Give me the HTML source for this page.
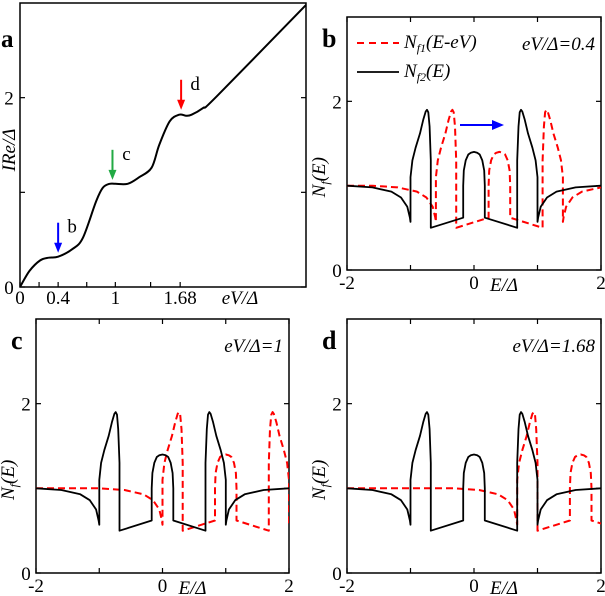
<!DOCTYPE html>
<html><head><meta charset="utf-8"><style>
body{margin:0;background:#fff;}
svg{display:block;font-family:"Liberation Serif",serif;}
.t{font-size:19px;fill:#000}
.it{font-style:italic}
</style></head><body>
<svg id="fig" width="605" height="596" viewBox="0 0 605 596" xmlns="http://www.w3.org/2000/svg">
<defs>
<clipPath id="cpa"><rect x="20" y="3" width="286" height="284"/></clipPath>
<clipPath id="cpb"><rect x="347" y="17" width="254" height="253"/></clipPath>
<clipPath id="cpc"><rect x="36" y="319" width="253" height="254"/></clipPath>
<clipPath id="cpd"><rect x="347" y="319" width="254" height="254"/></clipPath>
</defs>
<g id="g"></g>
</svg>
<script>
// Panel a: I-V curve
const ivV = [0,0.1,0.21,0.3,0.4,0.55,0.66,0.8,0.87,0.94,1.0,1.13,1.25,1.38,1.46,1.57,1.67,1.74,1.8,1.92,2.06,3.0];
const ivI = [0,0.17,0.28,0.31,0.32,0.40,0.52,0.91,1.05,1.09,1.09,1.09,1.16,1.26,1.5,1.75,1.82,1.81,1.82,1.89,2.01,2.98];
// DOS N_f2(E): energies and values (black curve)
const dosE = [-2,-1.6,-1.3,-1.15,-1.05,-1.01,-1.0,-1.0,-0.97,-0.92,-0.85,-0.8,-0.76,-0.74,-0.72,-0.7,-0.68,-0.68,-0.17,-0.17,-0.16,-0.13,-0.09,-0.05,0,0.05,0.09,0.13,0.16,0.17,0.17,0.68,0.68,0.7,0.72,0.74,0.76,0.8,0.85,0.92,0.97,1.0,1.0,1.01,1.05,1.15,1.3,1.6,2];
const dosN = [1.0,0.98,0.93,0.86,0.75,0.62,0.57,1.1,1.3,1.45,1.62,1.78,1.88,1.9,1.87,1.7,1.3,0.5,0.62,1.0,1.18,1.3,1.37,1.39,1.4,1.39,1.37,1.3,1.18,1.0,0.62,0.5,1.3,1.7,1.87,1.9,1.88,1.78,1.62,1.45,1.3,1.1,0.57,0.62,0.75,0.86,0.93,0.98,1.0];
// bias values for panels b,c,d
const biasValues = [0.4,1,1.68];
const panelLetters = ['b','c','d'];
const biasLabels = ['eV/Δ=0.4','eV/Δ=1','eV/Δ=1.68'];

const NS='http://www.w3.org/2000/svg';
const G=document.getElementById('g');
function el(tag,attrs,parent){const e=document.createElementNS(NS,tag);for(const k in attrs)e.setAttribute(k,attrs[k]);(parent||G).appendChild(e);return e;}
function txt(s,x,y,cls,anchor,parent){const e=el('text',{x:x,y:y,class:cls||'t','text-anchor':anchor||'middle'},parent);e.textContent=s;return e;}
function smooth(pts){let d='M'+pts[0][0].toFixed(1)+','+pts[0][1].toFixed(1);
 for(let i=0;i<pts.length-1;i++){const p0=pts[Math.max(0,i-1)],p1=pts[i],p2=pts[i+1],p3=pts[Math.min(pts.length-1,i+2)];
  const c1=[p1[0]+(p2[0]-p0[0])/6,p1[1]+(p2[1]-p0[1])/6],c2=[p2[0]-(p3[0]-p1[0])/6,p2[1]-(p3[1]-p1[1])/6];
  d+='C'+c1[0].toFixed(1)+','+c1[1].toFixed(1)+' '+c2[0].toFixed(1)+','+c2[1].toFixed(1)+' '+p2[0].toFixed(1)+','+p2[1].toFixed(1);}
 return d;}

// ---------- Panel a ----------
const A={x0:20,x1:306,y0:287,y1:3,xmin:0,xmax:3,ymin:0,ymax:3};
const ax=v=>A.x0+(v-A.xmin)/(A.xmax-A.xmin)*(A.x1-A.x0);
const ay=v=>A.y0-(v-A.ymin)/(A.ymax-A.ymin)*(A.y0-A.y1);
const ga=el('g',{});


const fa=el('rect',{x:A.x0,y:A.y1,width:A.x1-A.x0,height:A.y0-A.y1,fill:'none',stroke:'#000','stroke-width':1.5},ga);


[0,0.2,0.4,0.7,1,1.37,1.68].forEach(v=>{el('line',{x1:ax(v),x2:ax(v),y1:A.y0,y2:A.y0-5,stroke:'#000','stroke-width':1.2},ga);});
[0,1,2].forEach(v=>{el('line',{x1:A.x0,x2:A.x0+5,y1:ay(v),y2:ay(v),stroke:'#000','stroke-width':1.2},ga);el('line',{x1:A.x1,x2:A.x1-5,y1:ay(v),y2:ay(v),stroke:'#000','stroke-width':1.2},ga);});
const ivPts=ivV.map((v,i)=>[ax(v),ay(ivI[i])]);
const ca=el('path',{d:smooth(ivPts),fill:'none',stroke:'#000','stroke-width':2,'stroke-linejoin':'round','clip-path':'url(#cpa)'},ga);


[['0',0],['0.4',0.4],['1',1],['1.68',1.68]].forEach(p=>{const t=txt(p[0],ax(p[1]),304,'t','middle',ga);});
[['0',0],['2',2]].forEach(p=>{const t=txt(p[0],9,ay(p[1])+7,'t','middle',ga);});
let t=txt('eV/Δ',240,304,'t it','middle',ga);
t=txt('IRe/Δ',0,0,'t it','middle',ga);t.setAttribute('transform','translate(15,150) rotate(-90)');
t=el('text',{x:1,y:47,'font-size':'25','font-weight':'bold'},ga);t.textContent='a';
const arrows=[[0.4,'#0000ff','b',0.32],[0.97,'#22aa44','c',1.09],[1.69,'#ff0000','d',1.83]];
arrows.forEach(a=>{const x=ax(a[0]),yb=ay(a[3])-4;
 const g=el('g',{},ga);
 el('line',{x1:x,x2:x,y1:yb-30,y2:yb-8,stroke:a[1],'stroke-width':2},g);
 el('polygon',{points:`${x-4},${yb-10} ${x+4},${yb-10} ${x},${yb}`,fill:a[1]},g);
 const l=txt(a[2],x+14,yb-20,'t','middle',g);l.setAttribute('font-size','22');});

// ---------- Panels b,c,d ----------
const boxes=[{x0:347,x1:601,y0:270,y1:17,cp:'cpb'},{x0:36,x1:289,y0:573,y1:319,cp:'cpc'},{x0:347,x1:601,y0:573,y1:319,cp:'cpd'}];
boxes.forEach((B,k)=>{
 const X=v=>B.x0+(v+2)/4*(B.x1-B.x0);
 const Y=v=>B.y0-v/3*(B.y0-B.y1);
 const g=el('g',{});
 
 
 const f=el('rect',{x:B.x0,y:B.y1,width:B.x1-B.x0,height:B.y0-B.y1,fill:'none',stroke:'#000','stroke-width':1.5},g);
 
 
 [-2,-1,0,1,2].forEach(v=>{el('line',{x1:X(v),x2:X(v),y1:B.y0,y2:B.y0-5,stroke:'#000','stroke-width':1.2},g);el('line',{x1:X(v),x2:X(v),y1:B.y1,y2:B.y1+5,stroke:'#000','stroke-width':1.2},g);});
 [0,1,2].forEach(v=>{el('line',{x1:B.x0,x2:B.x0+5,y1:Y(v),y2:Y(v),stroke:'#000','stroke-width':1.2},g);el('line',{x1:B.x1,x2:B.x1-5,y1:Y(v),y2:Y(v),stroke:'#000','stroke-width':1.2},g);});
 const eV=biasValues[k];
 let dr='';dosE.forEach((e,i)=>{dr+=(i?'L':'M')+X(e+eV).toFixed(1)+','+Y(dosN[i]).toFixed(1);});
 dr='M'+X(-2).toFixed(1)+','+Y(dosN[0]).toFixed(1)+'L'+dr.slice(1);
 const r=el('path',{d:dr,fill:'none',stroke:'#ff0000','stroke-width':2,'stroke-dasharray':'7,4','stroke-linejoin':'round','clip-path':'url(#'+B.cp+')'},g);
 
 
 let db='';dosE.forEach((e,i)=>{db+=(i?'L':'M')+X(e).toFixed(1)+','+Y(dosN[i]).toFixed(1);});
 const b=el('path',{d:db,fill:'none',stroke:'#000','stroke-width':1.8,'stroke-linejoin':'round','clip-path':'url(#'+B.cp+')'},g);
 
 
 [['-2',-2],['0',0],['2',2]].forEach(p=>{const t=txt(p[0],X(p[1]),B.y0+19,'t','middle',g);});
 [['0',0],['2',2]].forEach(p=>{const t=txt(p[0],B.x0-10,Y(p[1])+7,'t','middle',g);});
 let tt=txt('E/Δ',X(0)+30,B.y0+21,'t it','middle',g);
 tt=el('text',{class:'t it','text-anchor':'middle',transform:`translate(${B.x0-22},${Y(1.1)}) rotate(-90)`},g);
 tt.innerHTML='N<tspan font-size="12" dy="4">f</tspan><tspan dy="-4">(E)</tspan>';
 
 tt=el('text',{x:B.x0-25,y:B.y1+30,'font-size':'26','font-weight':'bold'},g);tt.textContent=panelLetters[k];
 
 tt=txt(biasLabels[k],B.x1-6,B.y1+33,'t it','end',g);tt.setAttribute('font-size','17');
 
 if(k===0){
  const lg=el('g',{},g);
  el('line',{x1:357,x2:399,y1:43,y2:43,stroke:'#ff0000','stroke-width':2,'stroke-dasharray':'7,5'},lg);
  let l=el('text',{x:404,y:48,class:'t it'},lg);l.innerHTML='N<tspan font-size="12" dy="4">f1</tspan><tspan dy="-4">(E-eV)</tspan>';
  el('line',{x1:357,x2:399,y1:72,y2:72,stroke:'#000','stroke-width':1.8},lg);
  l=el('text',{x:404,y:77,class:'t it'},lg);l.innerHTML='N<tspan font-size="12" dy="4">f2</tspan><tspan dy="-4">(E)</tspan>';
  const ar=el('g',{},g);
  el('line',{x1:460,x2:494,y1:125,y2:125,stroke:'#0000ff','stroke-width':2},ar);
  el('polygon',{points:'492,120 504,125 492,130',fill:'#0000ff'},ar);
 }
});
</script>
</body></html>
